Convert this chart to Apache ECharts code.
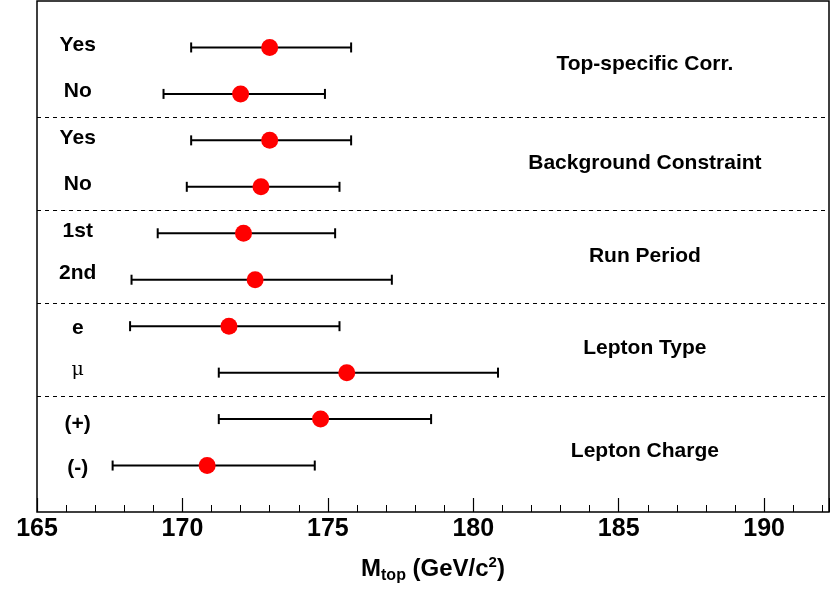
<!DOCTYPE html>
<html><head><meta charset="utf-8">
<script src="https://cdn.jsdelivr.net/npm/echarts@6/dist/echarts.min.js"></script>
<style>html,body{margin:0;background:#fff}#c{width:830px;height:590px}</style>
</head><body><div id="c"></div>
<script>
var rowLabels = ['Yes','No','Yes','No','1st','2nd','e','\u03bc','(+)','(-)'];
var rowY = [10,9,8,7,6,5,4,3,2,1];
var labelY = [10.05,9.05,8.05,7.05,6.05,5.15,3.95,3.05,1.9,0.95];
var central = [173.0,172.0,173.0,172.7,172.1,172.5,171.6,175.65,174.75,170.85];
var lowErr = [170.3,169.35,170.3,170.15,169.15,168.25,168.2,171.25,171.25,167.6];
var highErr = [175.8,174.9,175.8,175.4,175.25,177.2,175.4,180.85,178.55,174.55];
var groupNames = ['Top-specific Corr.','Background Constraint','Run Period','Lepton Type','Lepton Charge'];
var groupY = [9.63,7.5,5.5,3.53,1.3];
var dividers = [8.5,6.5,4.5,2.5];

var chart = echarts.init(document.getElementById('c'));
var font = 'Liberation Sans, Arial, sans-serif';

var bars = rowY.map(function(y,i){return [lowErr[i],highErr[i],y];});
var pts = rowY.map(function(y,i){return [central[i],y];});
var labelPts = labelY.map(function(y,i){return {value:[166.4,y],label:{formatter:rowLabels[i],
  fontWeight: i===7?'normal':'bold', fontFamily: i===7?'DejaVu Serif, serif':font, fontSize: i===7?19:21}};});
var groupPts = groupY.map(function(y,i){return {value:[185.9,y],label:{formatter:groupNames[i]}};});

chart.setOption({
  animation:false,
  grid:{left:37,right:1,top:1,bottom:78,outerBoundsMode:'none',containLabel:false,show:true,borderColor:'#000',borderWidth:1.5},
  xAxis:{type:'value',min:165,max:192.23,interval:5,
    axisLine:{show:false},
    axisTick:{inside:true,length:14,lineStyle:{color:'#000',width:1.2}},
    minorTick:{show:true,splitNumber:5,length:7,lineStyle:{color:'#000'}},
    splitLine:{show:false},
    axisLabel:{color:'#000',fontSize:25,fontWeight:'bold',fontFamily:font,margin:5,
      formatter:function(v){return v>191?'':v;}},
    name:'{a|M}{s|top}{a| (GeV/c}{p|2}{a|)}',nameLocation:'middle',nameGap:43,
    nameTextStyle:{rich:{
      a:{fontSize:24,fontWeight:'bold',fontFamily:font,color:'#000'},
      s:{fontSize:16,fontWeight:'bold',fontFamily:font,color:'#000',verticalAlign:'bottom',padding:[12,0,0,0]},
      p:{fontSize:15,fontWeight:'bold',fontFamily:font,color:'#000',verticalAlign:'top',padding:[0,0,14,0]}}}
  },
  yAxis:{type:'value',min:0,max:11,show:false},
  series:[
    {type:'custom',data:bars,z:2,
      renderItem:function(params,api){
        var a=api.coord([api.value(0),api.value(2)]);
        var b=api.coord([api.value(1),api.value(2)]);
        var h=5;
        var st={stroke:'#000',lineWidth:2};
        return {type:'group',children:[
          {type:'line',shape:{x1:a[0],y1:a[1],x2:b[0],y2:b[1]},style:st},
          {type:'line',shape:{x1:a[0],y1:a[1]-h,x2:a[0],y2:a[1]+h},style:st},
          {type:'line',shape:{x1:b[0],y1:b[1]-h,x2:b[0],y2:b[1]+h},style:st}]};
      }},
    {type:'scatter',data:pts,symbolSize:17,z:3,itemStyle:{color:'#ff0000',opacity:1}},
    {type:'scatter',data:labelPts,symbolSize:0,itemStyle:{opacity:1},
      label:{show:true,position:'inside',color:'#000',fontSize:21,fontWeight:'bold',fontFamily:font}},
    {type:'scatter',data:groupPts,symbolSize:0,itemStyle:{opacity:1},
      label:{show:true,position:'inside',color:'#000',fontSize:21,fontWeight:'bold',fontFamily:font},
      markLine:{silent:true,symbol:'none',label:{show:false},
        lineStyle:{color:'#000',type:[4,4],width:1},
        data:dividers.map(function(d){return {yAxis:d};})}}
  ]
});
window.onresize = chart.resize;
</script></body></html>
